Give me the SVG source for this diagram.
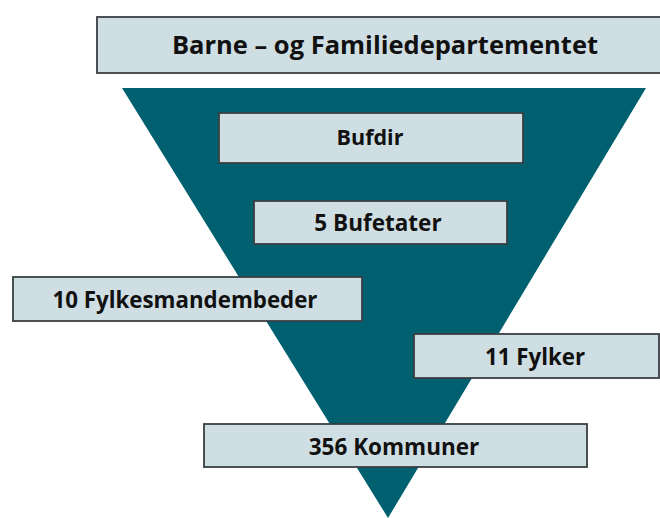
<svg xmlns="http://www.w3.org/2000/svg" width="660" height="518" viewBox="0 0 660 518">
<style>
.box{fill:#cfdee3;stroke:#3a3f42;stroke-width:1.8}
.t{font-family:"Open Sans","Liberation Sans",sans-serif;font-weight:bold;fill:#111;text-anchor:middle;dominant-baseline:central}
</style>
<rect width="660" height="518" fill="#ffffff"/>
<polygon id="funnel" points="122,88 646,88 388,518" fill="#006070"/>
<g id="connectors"></g>
<g id="n-dept"><rect class="box" x="97" y="17" width="570" height="56"/><text class="t" x="385" y="44" font-size="25.5">Barne – og Familiedepartementet</text></g>
<g id="n-bufdir"><rect class="box" x="219" y="113" width="304" height="50"/><text class="t" x="370" y="136" font-size="21.5">Bufdir</text></g>
<g id="n-bufetater"><rect class="box" x="254" y="201" width="253" height="43"/><text class="t" x="378" y="222" font-size="22.5">5 Bufetater</text></g>
<g id="n-fylkesmann"><rect class="box" x="13" y="277" width="349" height="44"/><text class="t" x="185" y="299" font-size="22.3">10 Fylkesmandembeder</text></g>
<g id="n-fylker"><rect class="box" x="414" y="334" width="245" height="44"/><text class="t" x="535" y="356" font-size="22.3">11 Fylker</text></g>
<g id="n-kommuner"><rect class="box" x="204" y="424" width="383" height="43"/><text class="t" x="394" y="446" font-size="22.5">356 Kommuner</text></g>
</svg>
